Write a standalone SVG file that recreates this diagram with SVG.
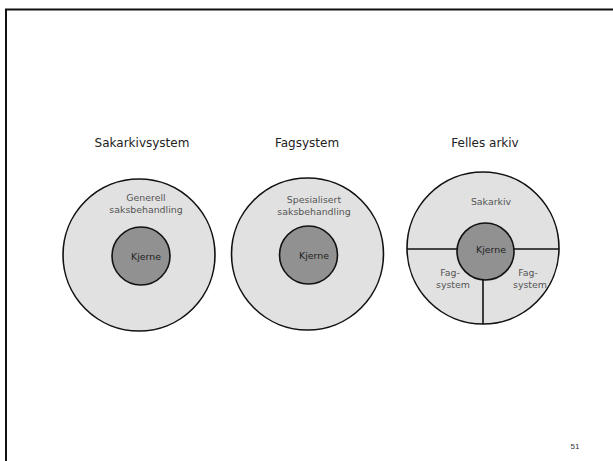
<svg xmlns="http://www.w3.org/2000/svg" width="613" height="461" viewBox="0 0 613 461">
<style>
.title{font-family:"Comic Sans MS","DejaVu Sans",sans-serif;font-size:12px;fill:#222;text-anchor:middle}
.lbl{font-family:"Comic Sans MS","DejaVu Sans",sans-serif;font-size:9.4px;fill:#555;text-anchor:middle}
.core{font-family:"Comic Sans MS","DejaVu Sans",sans-serif;font-size:9.4px;fill:#222;text-anchor:middle}
.outer{fill:#e1e1e1;stroke:#111;stroke-width:1.6}
.inner{fill:#919191;stroke:#111;stroke-width:1.6}
.div{stroke:#111;stroke-width:1.6;fill:none}
.num{font-family:"Liberation Sans",sans-serif;font-size:8px;fill:#333;text-anchor:middle}
</style>
<rect width="613" height="461" fill="#fff"/>
<path d="M6 461 V9.5 H613" fill="none" stroke="#111" stroke-width="2"/>
<g id="sakarkivsystem">
<text class="title" x="142" y="147">Sakarkivsystem</text>
<circle class="outer" cx="139" cy="255" r="76"/>
<circle class="inner" cx="141" cy="256" r="29"/>
<text class="lbl" x="146" y="200.5">Generell</text>
<text class="lbl" x="146" y="213">saksbehandling</text>
<text class="core" x="146" y="260">Kjerne</text>
</g>
<g id="fagsystem">
<text class="title" x="307" y="147">Fagsystem</text>
<circle class="outer" cx="307.5" cy="254" r="76"/>
<circle class="inner" cx="308.5" cy="255" r="29"/>
<text class="lbl" x="314" y="202.5">Spesialisert</text>
<text class="lbl" x="314" y="214.5">saksbehandling</text>
<text class="core" x="314" y="259">Kjerne</text>
</g>
<g id="felles-arkiv">
<text class="title" x="485" y="147">Felles arkiv</text>
<circle class="outer" cx="483" cy="248" r="76"/>
<g id="connectors">
<line class="div" x1="407" y1="249" x2="559" y2="249"/>
<line class="div" x1="483" y1="270" x2="483" y2="324"/>
</g>
<circle class="inner" cx="485.5" cy="251.5" r="28.5"/>
<text class="lbl" x="491" y="205">Sakarkiv</text>
<text class="core" x="491" y="253">Kjerne</text>
<text class="lbl" x="450" y="275.5">Fag-</text>
<text class="lbl" x="453" y="288">system</text>
<text class="lbl" x="528" y="275.5">Fag-</text>
<text class="lbl" x="530" y="288">system</text>
</g>
<text class="num" x="575" y="449">51</text>
</svg>
